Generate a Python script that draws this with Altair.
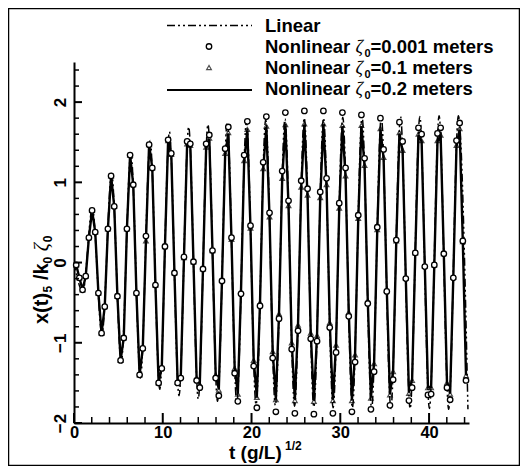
import altair as alt
import pandas as pd

# ---------------- data ----------------
# sampled series (common sampling grid: first sample and step read off the plot)
T0 = 0.25
DT = 0.357

# Nonlinear zeta0 = 0.2 m (solid line)
Y_02 = [-0.03, -0.19, -0.34, -0.17, 0.31, 0.65, 0.38, -0.38, -0.88, -0.55,
        0.42, 1.08, 0.70, -0.42, -1.22, -0.94, 0.42, 1.34, 0.97, -0.38,
        -1.40, -1.07, 0.26, 1.47, 1.18, -0.28, -1.50,
        -1.31, 0.20, 1.52, 1.35, -0.13, -1.49,
        -1.42, 0.06, 1.48, 1.46, 0.01, -1.45,
        -1.51, -0.08, 1.43, 1.54, 0.15, -1.39,
        -1.58, -0.22, 1.35, 1.61, 0.29, -1.31,
        -1.63, -0.36, 1.26, 1.65, 0.43, -1.21,
        -1.67, -0.50, 1.16, 1.69, 0.57, -1.10,
        -1.70, -0.64, 1.04, 1.71, 0.71, -0.99,
        -1.71, -0.77, 0.93, 1.72, 0.83, -0.87,
        -1.72, -0.90, 0.80, 1.72, 0.96, -0.74,
        -1.71, -1.02, 0.67, 1.70, 1.07, -0.61,
        -1.71, -1.14, 0.54, 1.70, 1.20, -0.47,
        -1.68, -1.25, 0.40, 1.66, 1.30, -0.33,
        -1.64, -1.35, 0.26, 1.61, 1.39, -0.19,
        -1.62, -1.46, 0.12, 1.59, 1.51, -0.04,
        -1.55, -1.55, -0.03, 1.51, 1.58, 0.11,
        -1.49, -1.63, -0.18, 1.45, 1.66, 0.26,
        -1.40]

# Nonlinear zeta0 = 0.1 m (triangles) - nearly indistinguishable from the 0.2 m curve
Y_01 = [-0.03, -0.19, -0.34, -0.17, 0.31, 0.65, 0.38, -0.38, -0.88, -0.55,
        0.42, 1.08, 0.70, -0.42, -1.22, -0.94, 0.42, 1.34, 0.97, -0.38,
        -1.40, -1.07, 0.27, 1.47, 1.18, -0.28, -1.50,
        -1.31, 0.20, 1.52, 1.35, -0.13, -1.49,
        -1.42, 0.06, 1.48, 1.46, 0.01, -1.45,
        -1.52, -0.08, 1.44, 1.55, 0.15, -1.40,
        -1.59, -0.22, 1.36, 1.62, 0.29, -1.32,
        -1.64, -0.36, 1.27, 1.66, 0.43, -1.22,
        -1.68, -0.50, 1.17, 1.70, 0.57, -1.11,
        -1.71, -0.64, 1.05, 1.72, 0.71, -1.00,
        -1.72, -0.78, 0.94, 1.73, 0.84, -0.88,
        -1.73, -0.91, 0.81, 1.73, 0.97, -0.75,
        -1.72, -1.03, 0.68, 1.71, 1.08, -0.62,
        -1.72, -1.15, 0.55, 1.71, 1.21, -0.48,
        -1.69, -1.26, 0.41, 1.67, 1.31, -0.34,
        -1.65, -1.36, 0.27, 1.62, 1.40, -0.19,
        -1.63, -1.47, 0.12, 1.60, 1.52, -0.04,
        -1.56, -1.56, -0.03, 1.52, 1.59, 0.11,
        -1.50, -1.64, -0.18, 1.46, 1.67, 0.26,
        -1.41]

# Nonlinear zeta0 = 0.001 m (circles)
Y_001 = [-0.03, -0.19, -0.34, -0.17, 0.31, 0.65, 0.38, -0.38, -0.88, -0.55,
         0.42, 1.08, 0.70, -0.42, -1.22, -0.94, 0.42, 1.34, 0.97, -0.38,
         -1.40, -1.07, 0.33, 1.47, 1.18, -0.28, -1.50,
         -1.32, 0.20, 1.53, 1.36, -0.13, -1.50,
         -1.44, 0.07, 1.51, 1.48, 0.01, -1.47,
         -1.56, -0.08, 1.48, 1.59, 0.15, -1.44,
         -1.66, -0.23, 1.42, 1.69, 0.31, -1.38,
         -1.73, -0.39, 1.34, 1.76, 0.46, -1.29,
         -1.81, -0.54, 1.25, 1.82, 0.62, -1.19,
         -1.86, -0.70, 1.14, 1.87, 0.77, -1.08,
         -1.88, -0.85, 1.02, 1.89, 0.92, -0.95,
         -1.89, -0.98, 0.88, 1.89, 1.05, -0.81,
         -1.88, -1.12, 0.74, 1.87, 1.18, -0.67,
         -1.86, -1.24, 0.59, 1.84, 1.30, -0.51,
         -1.83, -1.36, 0.44, 1.80, 1.41, -0.36,
         -1.78, -1.46, 0.28, 1.75, 1.51, -0.20,
         -1.72, -1.56, 0.12, 1.68, 1.60, -0.05,
         -1.65, -1.64, -0.03, 1.61, 1.68, 0.11,
         -1.56, -1.71, -0.19, 1.52, 1.74, 0.27,
         -1.47]

# Linear solution (smooth curve): its turning points
LIN_T = [0.0, 1.00, 2.07, 3.15, 4.24, 5.32, 6.41, 7.49, 8.58, 9.66, 10.75,
         11.83, 12.92, 14.00, 15.09, 16.17, 17.26, 18.34, 19.43, 20.51, 21.60,
         22.68, 23.77, 24.85, 25.94, 27.02, 28.11, 29.19, 30.28, 31.36, 32.45,
         33.53, 34.62, 35.70, 36.79, 37.87, 38.96, 40.04, 41.13, 42.21, 43.30,
         44.38]
LIN_Y = [0.0, -0.36, 0.68, -0.90, 1.11, -1.25, 1.37, -1.44, 1.52, -1.58, 1.63,
         -1.66, 1.69, -1.70, 1.72, -1.73, 1.74, -1.75, 1.76, -1.77, 1.78,
         -1.78, 1.79, -1.79, 1.80, -1.80, 1.80, -1.81, 1.81, -1.81, 1.82,
         -1.82, 1.82, -1.82, 1.82, -1.82, 1.82, -1.82, 1.83, -1.83, 1.83,
         -1.83]

X_MAJOR = [0, 10, 20, 30, 40]
X_MINOR = [2, 4, 6, 8, 12, 14, 16, 18, 22, 24, 26, 28, 32, 34, 36, 38, 42, 44]
Y_MAJOR = [-2, -1, 0, 1, 2]
Y_MINOR = [-1.8, -1.6, -1.4, -1.2, -0.8, -0.6, -0.4, -0.2, 0.2, 0.4, 0.6, 0.8,
           1.2, 1.4, 1.6, 1.8, 2.2, 2.4]

LEGEND = ["Linear", "Nonlinear", "=0.001 meters", "=0.1 meters", "=0.2 meters"]

# ---------------- layout ----------------
W, H = 395, 361
FONT = "Liberation Sans"
DASH = [8, 3, 2, 3, 2, 3]
xs = alt.Scale(domain=[0, 44.5], nice=False, zero=False)
ys = alt.Scale(domain=[-2, 2.5], nice=False, zero=False)

samples = pd.DataFrame({
    "t": [round(T0 + DT * i, 4) for i in range(len(Y_02))],
    "y02": Y_02, "y01": Y_01, "y001": Y_001,
})
lin = pd.DataFrame({"t": LIN_T, "y": LIN_Y})
one = pd.DataFrame({"a": [0]})

x_axis = alt.Axis(values=X_MAJOR, format="d", title=None, grid=False, ticks=False,
                  tickSize=0, labelFont=FONT, labelFontWeight="bold",
                  labelFontSize=16.5, labelColor="black", labelPadding=1,
                  labelFlush=False, domainColor="black", domainWidth=2)
y_axis = alt.Axis(values=Y_MAJOR, format="d", title=None, grid=False, ticks=False,
                  tickSize=0, labelFont=FONT, labelFontWeight="bold",
                  labelFontSize=17, labelColor="black", labelPadding=9,
                  labelAngle=270, labelAlign="center", labelBaseline="alphabetic",
                  labelFlush=False, domainColor="black", domainWidth=2)

def X(field):
    return alt.X(field, scale=xs, axis=x_axis)

def Y(field):
    return alt.Y(field, scale=ys, axis=y_axis)

solid = alt.Chart(samples).mark_line(color="black", strokeWidth=2.4).encode(
    x=X("t:Q"), y=Y("y02:Q"))
linear = alt.Chart(lin).mark_line(
    color="black", strokeWidth=1.5, strokeDash=DASH, interpolate="monotone",
).encode(x=X("t:Q"), y=Y("y:Q"))
tris = alt.Chart(samples).mark_point(
    shape="triangle-up", size=22, filled=False, stroke="black", strokeWidth=1.2,
).encode(x=X("t:Q"), y=Y("y01:Q"))
circs = alt.Chart(samples).mark_point(
    shape="circle", size=30, filled=True, fill="white", stroke="black",
    strokeWidth=1.3, opacity=1,
).encode(x=X("t:Q"), y=Y("y001:Q"))

# inward ticks
def xticks(vals, length, width):
    return alt.Chart(pd.DataFrame({"v": vals})).mark_rule(
        color="black", strokeWidth=width).encode(
        x=X("v:Q"), y=alt.value(H), y2=alt.value(H - length))

def yticks(vals, length, width):
    return alt.Chart(pd.DataFrame({"v": vals})).mark_rule(
        color="black", strokeWidth=width).encode(
        y=Y("v:Q"), x=alt.value(0), x2=alt.value(length))

ticks = [xticks(X_MAJOR, 10, 2), xticks(X_MINOR, 6, 1.5),
         yticks(Y_MAJOR, 8, 2), yticks(Y_MINOR, 5, 1.5)]

def txt(s, x, y, size=18.5, weight="bold", font=FONT, angle=0, style=None):
    kw = dict(align="left", baseline="alphabetic", font=font, fontSize=size,
              fontWeight=weight, color="black", angle=angle)
    if style:
        kw["fontStyle"] = style
    return alt.Chart(one).mark_text(**kw).encode(
        x=alt.value(x), y=alt.value(y), text=alt.value(s))

# legend (rows centred at chart-y -36.5, -15.5, 5.5, 26.5)
LX, SX, L1, L2 = 191, 135, 93, 178
rows = [-36.5, -15.5, 5.5, 26.5]
leg = []
leg.append(alt.Chart(one).mark_rule(color="black", strokeWidth=1.5,
                                    strokeDash=DASH).encode(
    x=alt.value(L1), x2=alt.value(L2), y=alt.value(rows[0])))
leg.append(alt.Chart(one).mark_point(shape="circle", size=30, filled=True, fill="white",
                                     stroke="black", strokeWidth=1.3, opacity=1).encode(
    x=alt.value(SX), y=alt.value(rows[1])))
leg.append(alt.Chart(one).mark_point(shape="triangle-up", size=22, filled=False,
                                     stroke="black", strokeWidth=1.2).encode(
    x=alt.value(SX), y=alt.value(rows[2])))
leg.append(alt.Chart(one).mark_rule(color="black", strokeWidth=2).encode(
    x=alt.value(L1), x2=alt.value(L2), y=alt.value(rows[3] + 1.5)))
leg.append(txt(LEGEND[0], LX, rows[0] + 6.6))
for r, tail in zip(rows[1:], LEGEND[2:]):
    base = r + 6.6
    leg.append(txt(LEGEND[1], LX, base))
    leg.append(txt("\u03b6", LX + 90.5, base, weight="normal", font="Liberation Serif",
                   style="italic"))
    leg.append(txt("0", LX + 99.5, base + 4, size=11))
    leg.append(txt(tail, LX + 105.5, base))

# axis titles
titles = [
    txt("t (g/L)", 155, 397, size=19),
    txt("1/2", 211, 388, size=12),
]
yb = -26
y0 = 262
titles += [
    txt("x(t)", yb, y0, size=20, angle=270),
    txt("5", yb + 4, y0 - 31.6, size=12, angle=270),
    txt("/k", yb, y0 - 43.9, size=20, angle=270),
    txt("0", yb + 4, y0 - 60.5, size=12, angle=270),
    txt("\u03b6", yb, y0 - 72.8, size=20, weight="normal", font="Liberation Serif",
        angle=270, style="italic"),
    txt("0", yb + 4, y0 - 81.8, size=12, angle=270),
]

frame = alt.Chart(one).mark_rect(filled=False, stroke="black", strokeWidth=1.5).encode(
    x=alt.value(-65.5), x2=alt.value(445.5), y=alt.value(-53.5), y2=alt.value(403.5))

chart = alt.layer(
    solid, linear, tris, circs, *ticks, *leg, *titles, frame
).properties(
    width=W, height=H,
    padding={"left": 66, "top": 54, "right": 51, "bottom": 43},
    autosize=alt.AutoSizeParams(type="none"),
    background="white",
).configure_view(stroke=None)

chart.save("out.html", embed_options={"renderer": "svg", "actions": False})
